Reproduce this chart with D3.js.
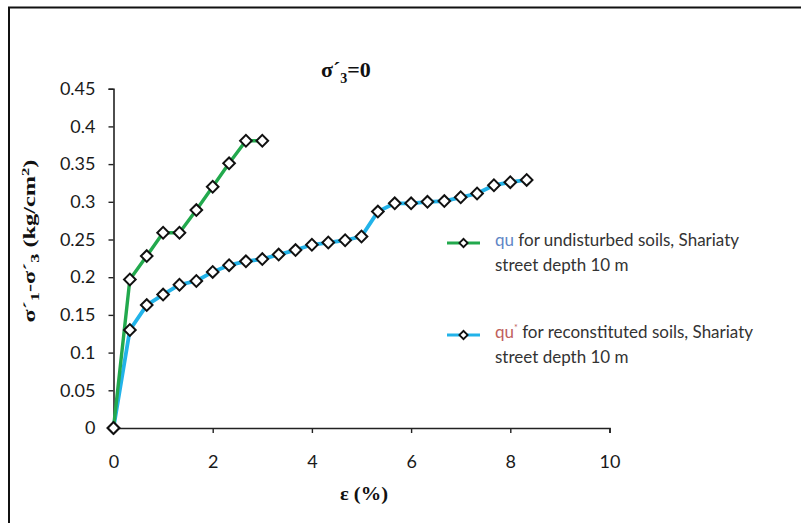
<!DOCTYPE html>
<html>
<head>
<meta charset="utf-8">
<script src="https://cdn.jsdelivr.net/npm/d3@7/dist/d3.min.js"></script>
<style>
  body { margin: 0; background: #fff; }
  svg { display: block; }
</style>
</head>
<body>
<div id="chart"></div>
<script>
// strain (%) and deviator stress (kg/cm2)
const undisturbedX = [0, 0.33, 0.67, 1.0, 1.33, 1.67, 2.0, 2.33, 2.67, 3.0];
const undisturbedY = [0, 0.197, 0.228, 0.259, 0.259, 0.289, 0.32, 0.351, 0.381, 0.381];

const reconstitutedX = [0, 0.33, 0.67, 1.0, 1.33, 1.67, 2.0, 2.33, 2.67, 3.0, 3.33, 3.67, 4.0,
  4.33, 4.67, 5.0, 5.33, 5.67, 6.0, 6.33, 6.67, 7.0, 7.33, 7.67, 8.0, 8.33];
const reconstitutedY = [0, 0.13, 0.163, 0.177, 0.19, 0.195, 0.207, 0.216, 0.221, 0.224, 0.23, 0.236, 0.243,
  0.246, 0.249, 0.254, 0.287, 0.298, 0.298, 0.3, 0.301, 0.306, 0.311, 0.322, 0.326, 0.329];

const xTicks = [0, 2, 4, 6, 8, 10];
const yTicks = [0, 0.05, 0.1, 0.15, 0.2, 0.25, 0.3, 0.35, 0.4, 0.45];
const yTickLabels = ["0", "0.05", "0.1", "0.15", "0.2", "0.25", "0.3", "0.35", "0.4", "0.45"];

const width = 801, height = 523;
const green = "#22a94d", blue = "#22b3e9";

const svg = d3.select("#chart").append("svg")
  .attr("width", width)
  .attr("height", height);

// frame (only top and left edges visible in the crop)
svg.append("path")
  .attr("d", "M9,523 V7.5 H801")
  .attr("fill", "none")
  .attr("stroke", "#111")
  .attr("stroke-width", 2);

const x = d3.scaleLinear().domain([0, 10]).range([113.5, 609.5]);
const y = d3.scaleLinear().domain([0, 0.45]).range([428, 88.7]);

const tickFont = "Lato, 'Open Sans', sans-serif";

svg.append("g")
  .attr("transform", `translate(0, ${y(0)})`)
  .call(d3.axisBottom(x).tickValues(xTicks).tickSize(5).tickPadding(22).tickFormat(d3.format("d")))
  .call(g => g.select(".domain").attr("stroke-width", 1.6).attr("stroke", "#222"))
  .call(g => g.selectAll(".tick line").attr("stroke-width", 1.4).attr("stroke", "#222"))
  .call(g => g.selectAll("text").style("font-family", tickFont).style("font-size", "18px").attr("fill", "#1a1a1a"));

svg.append("g")
  .attr("transform", `translate(${x(0)}, 0)`)
  .call(d3.axisLeft(y).tickValues(yTicks).tickSize(5).tickPadding(13).tickFormat((d, i) => yTickLabels[i]))
  .call(g => g.select(".domain").attr("stroke-width", 1.6).attr("stroke", "#222"))
  .call(g => g.selectAll(".tick line").attr("stroke-width", 1.4).attr("stroke", "#222"))
  .call(g => g.selectAll("text").style("font-family", tickFont).style("font-size", "18px").attr("fill", "#1a1a1a"));

// series
const series = [
  { xs: reconstitutedX, ys: reconstitutedY, color: blue, width: 3.8 },
  { xs: undisturbedX, ys: undisturbedY, color: green, width: 3.4 }
];

const line = d3.line().x(d => x(d[0])).y(d => y(d[1]));
const diamond = d3.symbol().type(d3.symbolSquare).size(68);

series.forEach(s => {
  const pts = s.xs.map((v, i) => [v, s.ys[i]]);
  svg.append("path")
    .datum(pts)
    .attr("d", line)
    .attr("fill", "none")
    .attr("stroke", s.color)
    .attr("stroke-width", s.width)
    .attr("stroke-linejoin", "round");
});

series.forEach(s => {
  const pts = s.xs.map((v, i) => [v, s.ys[i]]);
  svg.append("g").selectAll("path")
    .data(pts)
    .enter()
    .append("path")
    .attr("transform", d => `translate(${x(d[0])}, ${y(d[1])}) rotate(45)`)
    .attr("d", diamond)
    .attr("fill", "#fff")
    .attr("stroke", "#111")
    .attr("stroke-width", 2);
});

const serif = "'Liberation Serif', 'Times New Roman', serif";

// title
const title = svg.append("text")
  .attr("x", 321)
  .attr("y", 77)
  .style("font-family", serif)
  .style("font-weight", "bold")
  .style("font-size", "22px")
  .attr("fill", "#111");
title.append("tspan").text("σ´");
title.append("tspan").attr("dy", 6).style("font-size", "14px").text("3");
title.append("tspan").attr("dy", -6).text("=0");

// axis titles
svg.append("text")
  .attr("x", 364)
  .attr("y", 500)
  .attr("text-anchor", "middle")
  .style("font-family", serif)
  .style("font-weight", "bold")
  .style("font-size", "19px")
  .attr("fill", "#111")
  .attr("textLength", 48)
  .attr("lengthAdjust", "spacingAndGlyphs")
  .text("ε (%)");

const yLabel = svg.append("text")
  .attr("text-anchor", "middle")
  .style("font-family", serif)
  .style("font-weight", "bold")
  .style("font-size", "16px")
  .attr("fill", "#111");
yLabel.append("tspan").text("σ´");
yLabel.append("tspan").attr("dy", 4).style("font-size", "12px").text("1");
yLabel.append("tspan").attr("dy", -4).text("-σ´");
yLabel.append("tspan").attr("dy", 4).style("font-size", "12px").text("3");
yLabel.append("tspan").attr("dy", -4).text(" (kg/cm");
yLabel.append("tspan").attr("dy", -6).style("font-size", "11px").text("2");
yLabel.append("tspan").attr("dy", 6).text(")");
// stretch along its length to the extent seen in the figure
const yLen = yLabel.node().getBBox().width;
yLabel.attr("transform", `translate(35, 241) rotate(-90) scale(${163 / yLen}, 1)`);

// legend
const legendItems = [
  { color: green, qu: "qu", quColor: "#5f86c6", star: false,
    rest: " for undisturbed soils, Shariaty", line2: "street depth 10 m", y: 243 },
  { color: blue, qu: "qu", quColor: "#c0605c", star: true,
    rest: " for reconstituted soils, Shariaty", line2: "street depth 10 m", y: 335 }
];

const legendFont = "Lato, 'Open Sans', sans-serif";
const lg = svg.append("g");
legendItems.forEach(item => {
  const g = lg.append("g").attr("transform", `translate(0, ${item.y})`);
  g.append("line")
    .attr("x1", 447).attr("x2", 480)
    .attr("y1", 0).attr("y2", 0)
    .attr("stroke", item.color)
    .attr("stroke-width", 3);
  g.append("path")
    .attr("transform", "translate(463.5, 0) rotate(45)")
    .attr("d", d3.symbol().type(d3.symbolSquare).size(34)())
    .attr("fill", "#fff")
    .attr("stroke", "#111")
    .attr("stroke-width", 1.8);
  const t = g.append("text")
    .attr("x", 495)
    .attr("y", 3)
    .style("font-family", legendFont)
    .style("font-size", "17px")
    .attr("fill", "#333");
  t.append("tspan").attr("fill", item.quColor).text(item.qu);
  if (item.star) {
    t.append("tspan").attr("fill", item.quColor).attr("dy", -7).style("font-size", "9px").text("*");
    t.append("tspan").attr("dy", 7).text(item.rest);
  } else {
    t.append("tspan").text(item.rest);
  }
  g.append("text")
    .attr("x", 495)
    .attr("y", 28)
    .style("font-family", legendFont)
    .style("font-size", "17px")
    .attr("fill", "#333")
    .text(item.line2);
});
</script>
</body>
</html>
